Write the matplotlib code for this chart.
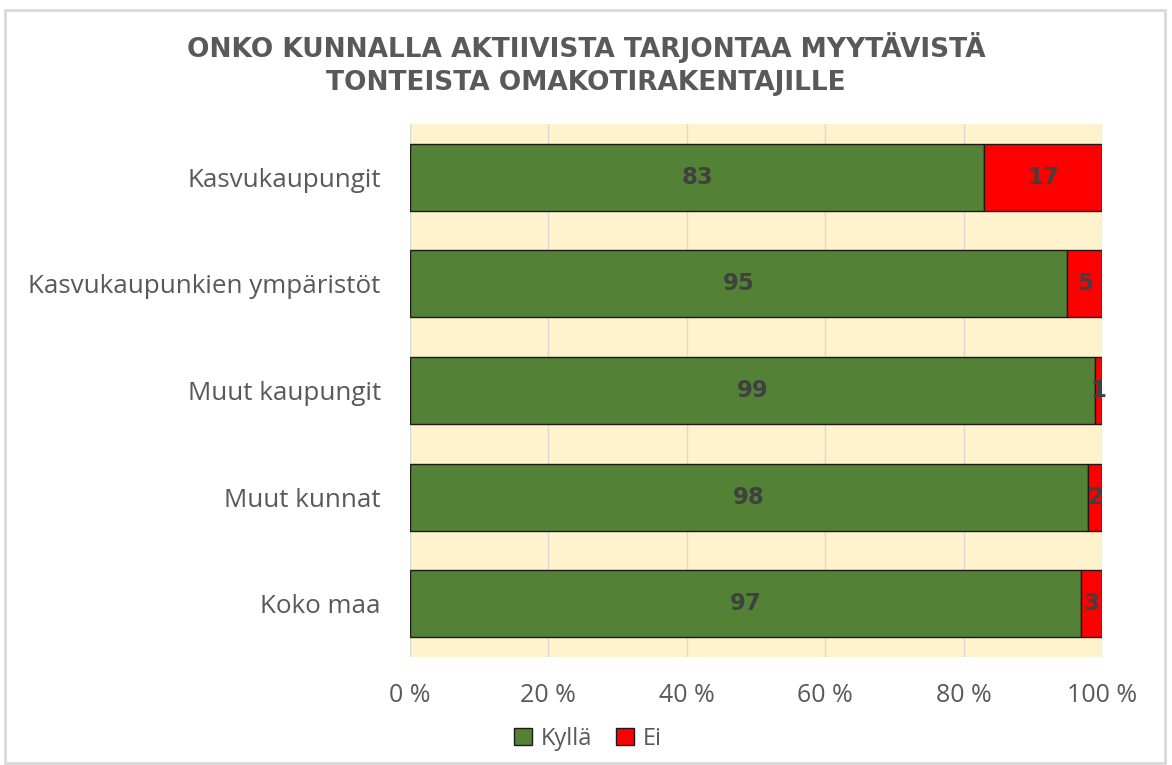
import matplotlib.pyplot as plt
from matplotlib import patches
import numpy as np

categories = ["Kasvukaupungit", "Kasvukaupunkien ympäristöt", "Muut kaupungit", "Muut kunnat", "Koko maa"]
kylla = [83, 95, 99, 98, 97]
ei = [17, 5, 1, 2, 3]
series_names = ["Kyllä", "Ei"]
title = "ONKO KUNNALLA AKTIIVISTA TARJONTAA MYYTÄVISTÄ\nTONTEISTA OMAKOTIRAKENTAJILLE"

plt.rcParams['font.family'] = ['Open Sans', 'DejaVu Sans']

fig = plt.figure(figsize=(11.72, 7.65), dpi=100)
ax = fig.add_axes([410/1172, 1-657/765, 692/1172, 533/765])
ax.set_facecolor('#FFF2CC')

y = np.arange(len(categories))[::-1]
h = 0.63
green = '#538135'
red = '#FF0000'
ax.barh(y, kylla, height=h, color=green, edgecolor='#1a1a1a', linewidth=1, label=series_names[0], zorder=3)
ax.barh(y, ei, left=kylla, height=h, color=red, edgecolor='#1a1a1a', linewidth=1, label=series_names[1], zorder=3)

for yi, k, e in zip(y, kylla, ei):
    ax.text(k/2, yi, str(k), ha='center', va='center', fontsize=16.5, fontweight='bold', color='#404040',
            family='DejaVu Sans', zorder=4)
    ax.text(k + e/2, yi, str(e), ha='center', va='center', fontsize=16.5, fontweight='bold', color='#404040',
            family='DejaVu Sans', zorder=4)

ax.set_xlim(0, 100)
ax.set_ylim(-0.5, len(categories) - 0.5)
ax.set_xticks(range(0, 101, 20))
ax.set_xticklabels([f"{v} %" for v in range(0, 101, 20)])
ax.set_yticks(y)
ax.set_yticklabels(categories)
ax.tick_params(axis='both', length=0, labelcolor='#595959')
ax.tick_params(axis='x', pad=19, labelsize=18)
ax.tick_params(axis='y', pad=21, labelsize=18.7)
ax.grid(axis='x', color='#D9D9D9', linewidth=1, zorder=0)
for s in ax.spines.values():
    s.set_visible(False)

fig.text(0.5, 1-64/765, title, ha='center', va='center', fontsize=19, fontweight='bold',
         color='#595959', family=['Liberation Sans Narrow', 'DejaVu Sans'], linespacing=1.35)

fig.legend(loc='center', bbox_to_anchor=(588/1172, 1-739/765), ncol=2, frameon=False,
           fontsize=17, labelcolor='#595959', handlelength=0.75, handleheight=0.75,
           handletextpad=0.4, columnspacing=1.0)

fig.add_artist(patches.Rectangle((5/1172, 2/765), 1160/1172, 753/765, transform=fig.transFigure,
                                 fill=False, edgecolor='#D9D9D9', linewidth=2))

fig.savefig('out.png', dpi=100)
